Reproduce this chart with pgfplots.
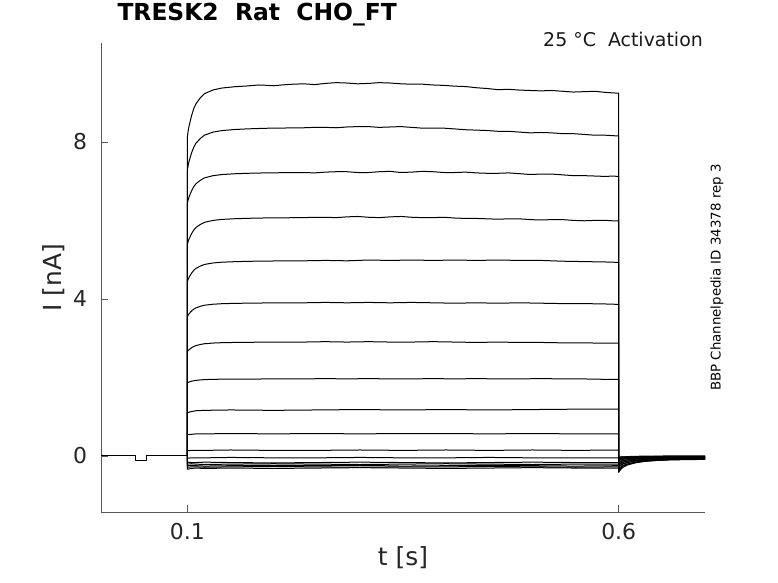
\documentclass[border=0pt]{standalone}
\usepackage{fontspec}
\setmainfont{DejaVu Sans}
\usepackage{pgfplots}
\pgfplotsset{compat=1.18}
\begin{document}
\begin{tikzpicture}
\path[use as bounding box] (0bp,0bp) rectangle (778bp,583bp);
\begin{axis}[
  at={(101bp,71bp)}, anchor=south west,
  scale only axis, width=604bp, height=469bp,
  xmin=0, xmax=0.7, ymin=-1.43, ymax=10.52,
  axis x line*=bottom, axis y line*=left,
  axis line style={-, draw=black!65, line width=0.7bp},
  xtick={0.1,0.6}, ytick={0,4,8},
  xticklabels={0.1,0.6}, yticklabels={0,4,8},
  tick align=inside, major tick length=7bp,
  tick style={draw=black!65, line width=0.7bp},
  ticklabel style={font=\fontsize{22}{26}\selectfont, text=black!85},
  xticklabel style={yshift=-7.7bp},
  yticklabel style={xshift=-10.4bp},
  xlabel={t [s]},
  xlabel style={font=\fontsize{25}{30}\selectfont, text=black!85, at={(axis description cs:0.5,-0.1130)}, anchor=base},
  ylabel={I [nA]},
  ylabel style={font=\fontsize{25}{30}\selectfont, text=black!85, at={(axis description cs:-0.0662,0.5)}, anchor=base, rotate=0},
  title={\textbf{TRESK2\ \ Rat\ \ CHO\_FT}},
  title style={font=\fontsize{23.5}{28}\selectfont, at={(axis description cs:0.0215,1.0352)}, anchor=base west},
  clip=false,
  tr/.style={black, line width=1.0bp, mark=none, line join=round},
]
% pre-step holding
\addplot[tr] coordinates {(0,0) (0.0404,0) (0.0404,-0.13) (0.0528,-0.13) (0.0528,0) (0.1,0)};
% trace 1
\addplot[tr] coordinates {(0.1,0) (0.1,8.10) (0.1005,8.195) (0.101,8.277) (0.102,8.399) (0.1035,8.535) (0.105,8.671) (0.1075,8.848) (0.11,8.970) (0.115,9.120) (0.12,9.229) (0.13,9.324) (0.14,9.372) (0.155,9.406) (0.17,9.426) (0.1825,9.45) (0.19,9.444) (0.2,9.43) (0.21,9.452) (0.2225,9.47) (0.235,9.48) (0.2475,9.46) (0.26,9.49) (0.2725,9.51) (0.285,9.50) (0.2975,9.48) (0.31,9.49) (0.3225,9.51) (0.335,9.50) (0.3475,9.48) (0.36,9.47) (0.3725,9.47) (0.385,9.45) (0.3975,9.44) (0.41,9.42) (0.4225,9.41) (0.435,9.38) (0.4475,9.36) (0.46,9.33) (0.4725,9.34) (0.485,9.32) (0.4975,9.31) (0.51,9.30) (0.5225,9.31) (0.535,9.29) (0.5475,9.27) (0.56,9.28) (0.5725,9.29) (0.585,9.26) (0.5925,9.25) (0.6,9.24)
 (0.6,-0.42) (0.602,-0.352) (0.605,-0.291) (0.61,-0.233) (0.62,-0.175) (0.63,-0.141) (0.645,-0.114) (0.66,-0.097) (0.68,-0.087) (0.7,-0.08)};
% trace 2
\addplot[tr] coordinates {(0.1,0) (0.1,7.26) (0.1005,7.337) (0.101,7.403) (0.102,7.502) (0.1035,7.612) (0.105,7.722) (0.1075,7.865) (0.11,7.964) (0.115,8.085) (0.12,8.173) (0.13,8.25) (0.14,8.288) (0.155,8.316) (0.17,8.332) (0.19,8.347) (0.21,8.353) (0.235,8.36) (0.2475,8.37) (0.26,8.37) (0.2725,8.36) (0.285,8.38) (0.2975,8.39) (0.31,8.39) (0.3225,8.37) (0.335,8.38) (0.3475,8.39) (0.36,8.37) (0.3725,8.35) (0.385,8.35) (0.3975,8.35) (0.41,8.33) (0.4225,8.31) (0.435,8.30) (0.4475,8.29) (0.46,8.27) (0.4725,8.27) (0.485,8.25) (0.4975,8.23) (0.51,8.24) (0.5225,8.23) (0.535,8.21) (0.5475,8.21) (0.56,8.19) (0.5725,8.17) (0.585,8.17) (0.5925,8.16) (0.6,8.15)
 (0.6,-0.38) (0.602,-0.318) (0.605,-0.262) (0.61,-0.210) (0.62,-0.157) (0.63,-0.126) (0.645,-0.101) (0.66,-0.086) (0.68,-0.076) (0.7,-0.07)};
% trace 3
\addplot[tr] coordinates {(0.1,0) (0.1,6.42) (0.1005,6.476) (0.101,6.524) (0.102,6.596) (0.1035,6.676) (0.105,6.756) (0.1075,6.86) (0.11,6.932) (0.115,7.02) (0.12,7.084) (0.13,7.14) (0.14,7.168) (0.155,7.188) (0.17,7.20) (0.19,7.21) (0.21,7.215) (0.235,7.22) (0.2475,7.21) (0.26,7.23) (0.2725,7.24) (0.285,7.24) (0.2975,7.22) (0.31,7.22) (0.3225,7.24) (0.335,7.25) (0.3475,7.22) (0.36,7.23) (0.3725,7.25) (0.385,7.24) (0.3975,7.22) (0.41,7.22) (0.4225,7.23) (0.435,7.21) (0.4475,7.20) (0.46,7.20) (0.4725,7.21) (0.485,7.19) (0.4975,7.17) (0.51,7.18) (0.5225,7.18) (0.535,7.16) (0.5475,7.14) (0.56,7.14) (0.5725,7.13) (0.585,7.12) (0.5925,7.13) (0.6,7.12)
 (0.6,-0.34) (0.602,-0.29) (0.605,-0.245) (0.61,-0.203) (0.62,-0.16) (0.63,-0.135) (0.645,-0.115) (0.66,-0.103) (0.68,-0.095) (0.7,-0.09)};
% trace 4
\addplot[tr] coordinates {(0.1,0) (0.1,5.37) (0.1005,5.419) (0.101,5.461) (0.102,5.524) (0.1035,5.594) (0.105,5.664) (0.1075,5.755) (0.11,5.818) (0.115,5.895) (0.12,5.951) (0.13,6.00) (0.14,6.025) (0.155,6.042) (0.17,6.053) (0.19,6.062) (0.21,6.066) (0.235,6.07) (0.2475,6.08) (0.26,6.08) (0.2725,6.07) (0.285,6.09) (0.2975,6.10) (0.31,6.08) (0.3225,6.07) (0.335,6.09) (0.3475,6.10) (0.36,6.08) (0.3725,6.07) (0.385,6.07) (0.3975,6.08) (0.41,6.06) (0.4225,6.05) (0.435,6.05) (0.4475,6.04) (0.46,6.03) (0.4725,6.04) (0.485,6.04) (0.4975,6.02) (0.51,6.01) (0.5225,6.02) (0.535,6.02) (0.5475,6.00) (0.56,5.99) (0.5725,6.00) (0.585,6.00) (0.5925,5.99) (0.6,5.99)
 (0.6,-0.30) (0.602,-0.252) (0.605,-0.209) (0.61,-0.168) (0.62,-0.127) (0.63,-0.103) (0.645,-0.084) (0.66,-0.072) (0.68,-0.065) (0.7,-0.06)};
% trace 5
\addplot[tr] coordinates {(0.1,0) (0.1,4.43) (0.1005,4.468) (0.101,4.50) (0.102,4.549) (0.1035,4.603) (0.105,4.657) (0.1075,4.727) (0.11,4.776) (0.115,4.835) (0.12,4.878) (0.13,4.916) (0.14,4.935) (0.155,4.948) (0.17,4.957) (0.19,4.964) (0.21,4.967) (0.235,4.97) (0.26,4.98) (0.285,4.97) (0.31,4.99) (0.335,4.98) (0.36,4.99) (0.385,4.98) (0.41,4.99) (0.435,4.98) (0.46,4.99) (0.485,4.98) (0.51,4.98) (0.535,4.96) (0.56,4.95) (0.585,4.94) (0.6,4.93)
 (0.6,-0.27) (0.602,-0.232) (0.605,-0.198) (0.61,-0.166) (0.62,-0.133) (0.63,-0.114) (0.645,-0.099) (0.66,-0.09) (0.68,-0.084) (0.7,-0.08)};
% trace 6
\addplot[tr] coordinates {(0.1,0) (0.1,3.54) (0.1005,3.565) (0.101,3.587) (0.102,3.619) (0.1035,3.655) (0.105,3.691) (0.1075,3.738) (0.11,3.77) (0.115,3.81) (0.12,3.839) (0.13,3.864) (0.14,3.877) (0.155,3.886) (0.17,3.891) (0.19,3.896) (0.21,3.898) (0.235,3.90) (0.26,3.91) (0.285,3.90) (0.31,3.91) (0.335,3.90) (0.36,3.91) (0.385,3.90) (0.41,3.89) (0.435,3.90) (0.46,3.89) (0.485,3.90) (0.51,3.89) (0.535,3.88) (0.56,3.88) (0.585,3.87) (0.6,3.86)
 (0.6,-0.24) (0.602,-0.202) (0.605,-0.168) (0.61,-0.136) (0.62,-0.103) (0.63,-0.084) (0.645,-0.069) (0.66,-0.06) (0.68,-0.054) (0.7,-0.05)};
% trace 7
\addplot[tr] coordinates {(0.1,0) (0.1,2.65) (0.1005,2.667) (0.101,2.682) (0.102,2.705) (0.1035,2.73) (0.105,2.755) (0.1075,2.787) (0.11,2.81) (0.115,2.837) (0.12,2.857) (0.13,2.875) (0.14,2.884) (0.155,2.89) (0.17,2.894) (0.19,2.897) (0.21,2.899) (0.235,2.90) (0.26,2.91) (0.285,2.90) (0.31,2.91) (0.335,2.90) (0.36,2.90) (0.385,2.91) (0.41,2.90) (0.435,2.89) (0.46,2.90) (0.485,2.89) (0.51,2.89) (0.535,2.88) (0.56,2.88) (0.585,2.87) (0.6,2.87)
 (0.6,-0.21) (0.602,-0.182) (0.605,-0.157) (0.61,-0.133) (0.62,-0.109) (0.63,-0.095) (0.645,-0.084) (0.66,-0.077) (0.68,-0.073) (0.7,-0.07)};
% trace 8
\addplot[tr] coordinates {(0.1,0) (0.1,1.86) (0.1005,1.867) (0.101,1.873) (0.102,1.882) (0.1035,1.892) (0.105,1.902) (0.1075,1.915) (0.11,1.924) (0.115,1.935) (0.12,1.943) (0.13,1.95) (0.14,1.954) (0.155,1.956) (0.17,1.958) (0.19,1.959) (0.21,1.959) (0.235,1.96) (0.26,1.97) (0.285,1.96) (0.31,1.97) (0.335,1.96) (0.36,1.96) (0.385,1.97) (0.41,1.96) (0.435,1.97) (0.46,1.96) (0.485,1.96) (0.51,1.97) (0.535,1.96) (0.56,1.96) (0.585,1.95) (0.6,1.95)
 (0.6,-0.18) (0.602,-0.152) (0.605,-0.127) (0.61,-0.103) (0.62,-0.079) (0.63,-0.065) (0.645,-0.054) (0.66,-0.047) (0.68,-0.043) (0.7,-0.04)};
% trace 9
\addplot[tr] coordinates {(0.1,0) (0.1,1.10) (0.105,1.13) (0.11,1.15) (0.12,1.16) (0.15,1.17) (0.2,1.16) (0.25,1.17) (0.3,1.18) (0.35,1.17) (0.4,1.18) (0.45,1.17) (0.5,1.18) (0.55,1.19) (0.6,1.19)
 (0.6,-0.15) (0.602,-0.132) (0.605,-0.116) (0.61,-0.10) (0.62,-0.085) (0.63,-0.076) (0.645,-0.069) (0.66,-0.065) (0.68,-0.062) (0.7,-0.06)};
% trace 10
\addplot[tr] coordinates {(0.1,0) (0.1,0.54) (0.105,0.55) (0.11,0.56) (0.12,0.56) (0.15,0.57) (0.2,0.56) (0.25,0.57) (0.3,0.56) (0.35,0.57) (0.4,0.57) (0.45,0.56) (0.5,0.57) (0.55,0.56) (0.6,0.56)
 (0.6,-0.12) (0.602,-0.102) (0.605,-0.086) (0.61,-0.07) (0.62,-0.055) (0.63,-0.046) (0.645,-0.039) (0.66,-0.035) (0.68,-0.032) (0.7,-0.03)};
% trace 11
\addplot[tr] coordinates {(0.1,0) (0.1,0.13) (0.105,0.14) (0.11,0.14) (0.12,0.14) (0.15,0.15) (0.2,0.14) (0.25,0.14) (0.3,0.15) (0.35,0.14) (0.4,0.15) (0.45,0.14) (0.5,0.15) (0.55,0.14) (0.6,0.15)
 (0.6,-0.10) (0.602,-0.09) (0.605,-0.081) (0.61,-0.073) (0.62,-0.064) (0.63,-0.059) (0.645,-0.055) (0.66,-0.053) (0.68,-0.051) (0.7,-0.05)};
% trace 12
\addplot[tr] coordinates {(0.1,0) (0.1,-0.06) (0.105,-0.05) (0.11,-0.05) (0.12,-0.05) (0.15,-0.04) (0.2,-0.05) (0.25,-0.05) (0.3,-0.04) (0.35,-0.05) (0.4,-0.05) (0.45,-0.04) (0.5,-0.05) (0.55,-0.05) (0.6,-0.05)
 (0.6,-0.08) (0.602,-0.068) (0.605,-0.057) (0.61,-0.047) (0.62,-0.037) (0.63,-0.031) (0.645,-0.026) (0.66,-0.023) (0.68,-0.021) (0.7,-0.02)};
% trace 13
\addplot[tr] coordinates {(0.1,0) (0.1,-0.16) (0.105,-0.17) (0.11,-0.17) (0.12,-0.16) (0.15,-0.17) (0.2,-0.18) (0.25,-0.17) (0.3,-0.16) (0.35,-0.17) (0.4,-0.18) (0.45,-0.17) (0.5,-0.16) (0.55,-0.17) (0.6,-0.17)
 (0.6,-0.07) (0.602,-0.064) (0.605,-0.059) (0.61,-0.054) (0.62,-0.048) (0.63,-0.045) (0.645,-0.043) (0.66,-0.042) (0.68,-0.041) (0.7,-0.04)};
% trace 14
\addplot[tr] coordinates {(0.1,0) (0.1,-0.21) (0.105,-0.20) (0.11,-0.21) (0.12,-0.22) (0.15,-0.21) (0.2,-0.20) (0.25,-0.21) (0.3,-0.22) (0.35,-0.21) (0.4,-0.20) (0.45,-0.21) (0.5,-0.22) (0.55,-0.21) (0.6,-0.21)
 (0.6,-0.06) (0.602,-0.05) (0.605,-0.041) (0.61,-0.033) (0.62,-0.024) (0.63,-0.019) (0.645,-0.015) (0.66,-0.013) (0.68,-0.011) (0.7,-0.01)};
% trace 15
\addplot[tr] coordinates {(0.1,0) (0.1,-0.25) (0.105,-0.24) (0.11,-0.25) (0.12,-0.26) (0.15,-0.25) (0.2,-0.24) (0.25,-0.25) (0.3,-0.24) (0.35,-0.26) (0.4,-0.25) (0.45,-0.24) (0.5,-0.25) (0.55,-0.26) (0.6,-0.25)
 (0.6,-0.05) (0.602,-0.046) (0.605,-0.042) (0.61,-0.039) (0.62,-0.036) (0.63,-0.034) (0.645,-0.032) (0.66,-0.031) (0.68,-0.03) (0.7,-0.03)};
% trace 16
\addplot[tr] coordinates {(0.1,0) (0.1,-0.29) (0.105,-0.28) (0.11,-0.28) (0.12,-0.29) (0.15,-0.28) (0.2,-0.27) (0.25,-0.28) (0.3,-0.29) (0.35,-0.28) (0.4,-0.28) (0.45,-0.27) (0.5,-0.28) (0.55,-0.29) (0.6,-0.28)
 (0.6,-0.04) (0.602,-0.032) (0.605,-0.025) (0.61,-0.018) (0.62,-0.011) (0.63,-0.007) (0.645,-0.004) (0.66,-0.002) (0.68,-0.001) (0.7,0)};
% trace 17
\addplot[tr] coordinates {(0.1,0) (0.1,-0.34) (0.105,-0.32) (0.11,-0.31) (0.12,-0.32) (0.15,-0.31) (0.2,-0.32) (0.25,-0.31) (0.3,-0.30) (0.35,-0.31) (0.4,-0.32) (0.45,-0.31) (0.5,-0.30) (0.55,-0.31) (0.6,-0.31)
 (0.6,-0.03) (0.602,-0.028) (0.605,-0.026) (0.61,-0.025) (0.62,-0.023) (0.63,-0.022) (0.645,-0.021) (0.66,-0.021) (0.68,-0.02) (0.7,-0.02)};
\node[anchor=base east, font=\fontsize{19}{23}\selectfont, text=black!90, inner sep=0pt] at (axis description cs:0.9967,0.9921) {25 °C\ \ Activation};
\end{axis}
\node[rotate=90, anchor=center, font=\fontsize{13.4}{16}\selectfont, inner sep=0pt] at (717bp,305.5bp) {BBP Channelpedia ID 34378 rep 3};
\end{tikzpicture}
\end{document}
